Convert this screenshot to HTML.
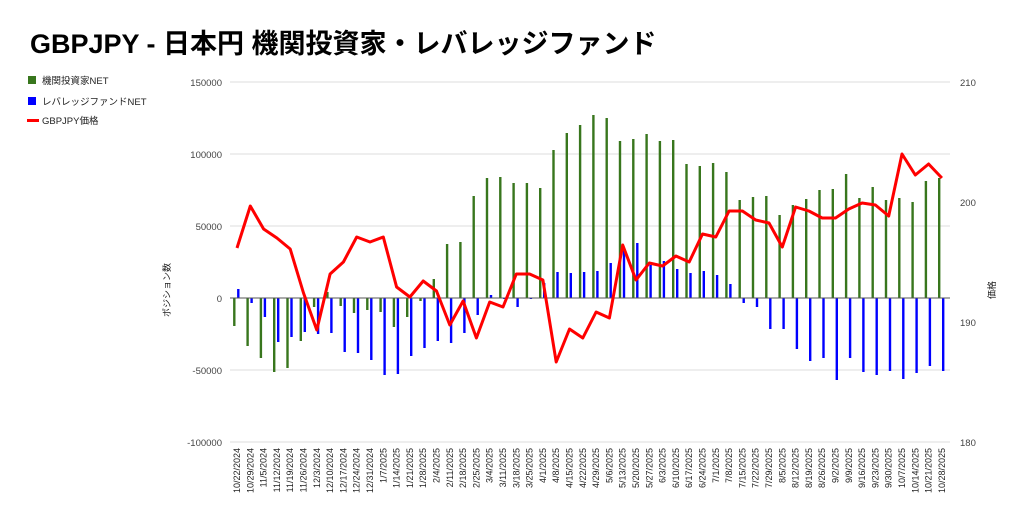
<!DOCTYPE html>
<html><head><meta charset="utf-8"><style>
body{margin:0;background:#fff;width:1024px;height:524px;overflow:hidden}
svg{font-family:"Liberation Sans","Noto Sans CJK JP",sans-serif}
</style></head><body>
<svg width="1024" height="524" viewBox="0 0 1024 524" xmlns="http://www.w3.org/2000/svg">
<text x="30" y="53" font-size="27" font-weight="bold" fill="#000">GBPJPY - 日本円 機関投資家・レバレッジファンド</text>
<rect x="28" y="76" width="8" height="8" fill="#38761d"/><text x="42" y="84" font-size="9.5" fill="#222">機関投資家NET</text>
<rect x="28" y="97" width="8" height="8" fill="#0000ff"/><text x="42" y="105" font-size="9.5" fill="#222">レバレッジファンドNET</text>
<rect x="27" y="119" width="12" height="3" fill="#ff0000"/><text x="42" y="124" font-size="9.5" fill="#222">GBPJPY価格</text>
<g stroke="#ddd" stroke-width="1">
<line x1="230" x2="950" y1="82" y2="82"/><line x1="230" x2="950" y1="154" y2="154"/><line x1="230" x2="950" y1="226" y2="226"/><line x1="230" x2="950" y1="370" y2="370"/><line x1="230" x2="950" y1="442" y2="442"/>
</g>
<g font-size="9.5" fill="#444" text-anchor="end">
<text x="222" y="86">150000</text><text x="222" y="158">100000</text><text x="222" y="230">50000</text><text x="222" y="302">0</text><text x="222" y="374">-50000</text><text x="222" y="446">-100000</text>
</g>
<g font-size="9.5" fill="#444">
<text x="960" y="86">210</text><text x="960" y="206">200</text><text x="960" y="326">190</text><text x="960" y="446">180</text>
</g>
<text transform="translate(170,290) rotate(-90)" font-size="9" text-anchor="middle" fill="#222">ポジション数</text>
<text transform="translate(995,290) rotate(-90)" font-size="9" text-anchor="middle" fill="#222">価格</text>
<path stroke="#38761d" stroke-width="2.4" fill="none" d="M234.3 298V326M247.6 298V346M260.9 298V358M274.2 298V372M287.5 298V368M300.8 298V341M314.1 298V307M327.4 298V292M340.7 298V306M354 298V313M367.3 298V310M380.6 298V312M393.9 298V327M407.2 298V317M420.5 298V301M433.8 298V279M447.1 298V244M460.4 298V242M473.7 298V196M487 298V178M500.3 298V177M513.6 298V183M526.9 298V183M540.2 298V188M553.5 298V150M566.8 298V133M580.1 298V125M593.4 298V115M606.7 298V118M620 298V141M633.3 298V139M646.6 298V134M659.9 298V141M673.2 298V140M686.5 298V164M699.8 298V166M713.1 298V163M726.4 298V172M739.7 298V200M753 298V197M766.3 298V196M779.6 298V215M792.9 298V205M806.2 298V199M819.5 298V190M832.8 298V189M846.1 298V174M859.4 298V198M872.7 298V187M886 298V200M899.3 298V198M912.6 298V202M925.9 298V181M939.2 298V178"/>
<path stroke="#0000ff" stroke-width="2.4" fill="none" d="M238.3 298V289M251.6 298V303M264.9 298V317M278.2 298V342M291.5 298V337M304.8 298V332M318.1 298V334M331.4 298V333M344.7 298V352M358 298V353M371.3 298V360M384.6 298V375M397.9 298V374M411.2 298V356M424.5 298V348M437.8 298V341M451.1 298V343M464.4 298V333M477.7 298V315M491 298V295M504.3 298V299M517.6 298V307M530.9 298V299M544.2 298V283M557.5 298V272M570.8 298V273M584.1 298V272M597.4 298V271M610.7 298V263M624 298V248M637.3 298V243M650.6 298V265M663.9 298V261M677.2 298V269M690.5 298V273M703.8 298V271M717.1 298V275M730.4 298V284M743.7 298V303M757 298V307M770.3 298V329M783.6 298V329M796.9 298V349M810.2 298V361M823.5 298V358M836.8 298V380M850.1 298V358M863.4 298V372M876.7 298V375M890 298V371M903.3 298V379M916.6 298V373M929.9 298V366M943.2 298V371"/>
<line x1="230" x2="950" y1="298" y2="298" stroke="#555" stroke-width="1"/>
<polyline fill="none" stroke="#ff0000" stroke-width="3" stroke-linejoin="round" points="237,248 250.3,206 263.6,229 276.9,238 290.2,249 303.5,293 316.8,330 330.1,274 343.4,262 356.7,237 370,242 383.3,237 396.6,287 409.9,297 423.2,281 436.5,291 449.8,325 463.1,301 476.4,338 489.7,302 503,307 516.3,274 529.6,274 542.9,280 556.2,362 569.5,329 582.8,338 596.1,312 609.4,318 622.7,245 636,280 649.3,263 662.6,266 675.9,256 689.2,262 702.5,234 715.8,237 729.1,211 742.4,211 755.7,220 769,223 782.3,247 795.6,207 808.9,211 822.2,218 835.5,218 848.8,209 862.1,203 875.4,205 888.7,216 902,154 915.3,175 928.6,164 941.9,178"/>
<g font-size="9" fill="#222" text-anchor="end">
<text transform="translate(240,448) rotate(-90)">10/22/2024</text>
<text transform="translate(253.3,448) rotate(-90)">10/29/2024</text>
<text transform="translate(266.6,448) rotate(-90)">11/5/2024</text>
<text transform="translate(279.9,448) rotate(-90)">11/12/2024</text>
<text transform="translate(293.2,448) rotate(-90)">11/19/2024</text>
<text transform="translate(306.5,448) rotate(-90)">11/26/2024</text>
<text transform="translate(319.8,448) rotate(-90)">12/3/2024</text>
<text transform="translate(333.1,448) rotate(-90)">12/10/2024</text>
<text transform="translate(346.4,448) rotate(-90)">12/17/2024</text>
<text transform="translate(359.7,448) rotate(-90)">12/24/2024</text>
<text transform="translate(373,448) rotate(-90)">12/31/2024</text>
<text transform="translate(386.3,448) rotate(-90)">1/7/2025</text>
<text transform="translate(399.6,448) rotate(-90)">1/14/2025</text>
<text transform="translate(412.9,448) rotate(-90)">1/21/2025</text>
<text transform="translate(426.2,448) rotate(-90)">1/28/2025</text>
<text transform="translate(439.5,448) rotate(-90)">2/4/2025</text>
<text transform="translate(452.8,448) rotate(-90)">2/11/2025</text>
<text transform="translate(466.1,448) rotate(-90)">2/18/2025</text>
<text transform="translate(479.4,448) rotate(-90)">2/25/2025</text>
<text transform="translate(492.7,448) rotate(-90)">3/4/2025</text>
<text transform="translate(506,448) rotate(-90)">3/11/2025</text>
<text transform="translate(519.3,448) rotate(-90)">3/18/2025</text>
<text transform="translate(532.6,448) rotate(-90)">3/25/2025</text>
<text transform="translate(545.9,448) rotate(-90)">4/1/2025</text>
<text transform="translate(559.2,448) rotate(-90)">4/8/2025</text>
<text transform="translate(572.5,448) rotate(-90)">4/15/2025</text>
<text transform="translate(585.8,448) rotate(-90)">4/22/2025</text>
<text transform="translate(599.1,448) rotate(-90)">4/29/2025</text>
<text transform="translate(612.4,448) rotate(-90)">5/6/2025</text>
<text transform="translate(625.7,448) rotate(-90)">5/13/2025</text>
<text transform="translate(639,448) rotate(-90)">5/20/2025</text>
<text transform="translate(652.3,448) rotate(-90)">5/27/2025</text>
<text transform="translate(665.6,448) rotate(-90)">6/3/2025</text>
<text transform="translate(678.9,448) rotate(-90)">6/10/2025</text>
<text transform="translate(692.2,448) rotate(-90)">6/17/2025</text>
<text transform="translate(705.5,448) rotate(-90)">6/24/2025</text>
<text transform="translate(718.8,448) rotate(-90)">7/1/2025</text>
<text transform="translate(732.1,448) rotate(-90)">7/8/2025</text>
<text transform="translate(745.4,448) rotate(-90)">7/15/2025</text>
<text transform="translate(758.7,448) rotate(-90)">7/22/2025</text>
<text transform="translate(772,448) rotate(-90)">7/29/2025</text>
<text transform="translate(785.3,448) rotate(-90)">8/5/2025</text>
<text transform="translate(798.6,448) rotate(-90)">8/12/2025</text>
<text transform="translate(811.9,448) rotate(-90)">8/19/2025</text>
<text transform="translate(825.2,448) rotate(-90)">8/26/2025</text>
<text transform="translate(838.5,448) rotate(-90)">9/2/2025</text>
<text transform="translate(851.8,448) rotate(-90)">9/9/2025</text>
<text transform="translate(865.1,448) rotate(-90)">9/16/2025</text>
<text transform="translate(878.4,448) rotate(-90)">9/23/2025</text>
<text transform="translate(891.7,448) rotate(-90)">9/30/2025</text>
<text transform="translate(905,448) rotate(-90)">10/7/2025</text>
<text transform="translate(918.3,448) rotate(-90)">10/14/2025</text>
<text transform="translate(931.6,448) rotate(-90)">10/21/2025</text>
<text transform="translate(944.9,448) rotate(-90)">10/28/2025</text>
</g>
</svg>
</body></html>
